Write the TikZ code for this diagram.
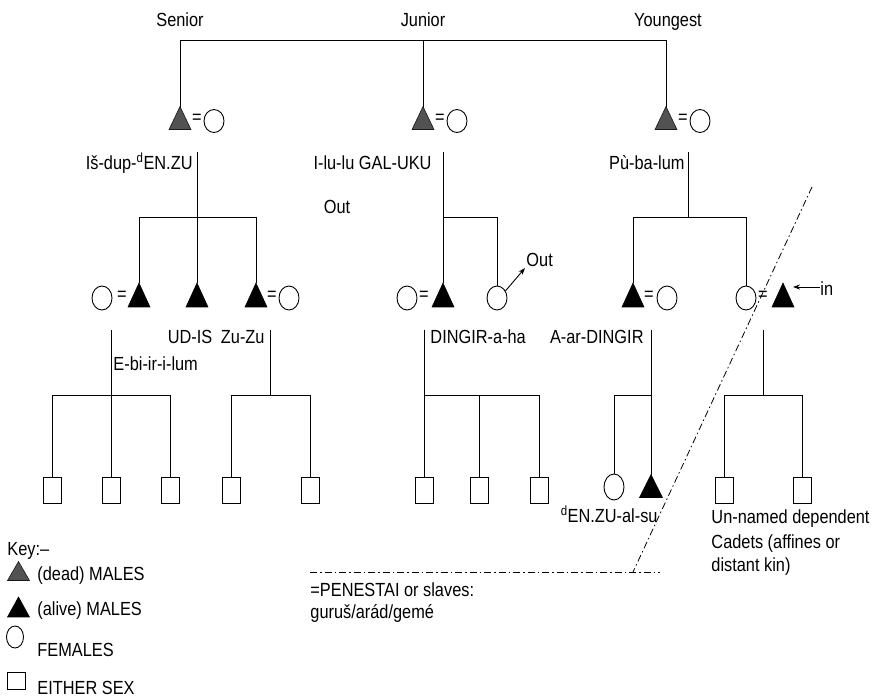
\documentclass[tikz,border=0pt]{standalone}
\usepackage{fontspec}
\setmainfont{Liberation Sans}[FakeStretch=0.86]
\usetikzlibrary{shapes.geometric,arrows.meta}
\newcommand\mtri[5]{\node[trbox,#5] (#1) at (#2,#3) {};
  \filldraw[#4] (#1.south west) -- (#1.south east) -- (#1.north) -- cycle;}
\begin{document}
\begin{tikzpicture}[x=1pt,y=-1pt, line width=0.9pt,
  trbox/.style={rectangle, inner sep=0pt, minimum width=21pt, minimum height=23pt},
  alive/.style={fill=black, draw=black, line width=0.6pt},
  dead/.style={fill=black!68, draw=black!90, line width=0.6pt},
  fem/.style={ellipse, draw, inner sep=0pt, minimum width=20pt, minimum height=24pt},
  sq/.style={rectangle, draw, inner sep=0pt, minimum width=18pt, minimum height=26pt},
  lbl/.style={inner sep=0pt, font=\fontsize{19}{22}\selectfont},
  eqs/.style={inner sep=0pt, font=\fontsize{19}{22}\selectfont},
  dashdot/.style={dash pattern=on 7pt off 3pt on 1.5pt off 3pt, line width=0.8pt},
  arr/.style={-{Stealth[length=7pt,width=5pt]}},
]
\useasboundingbox (0,0) rectangle (879,697);

% ---------- generation 1 ----------
\node[lbl, anchor=base] (lsen) at (180,26) {Senior};
\node[lbl, anchor=base] (ljun) at (423,26) {Junior};
\node[lbl, anchor=base] (lyou) at (668,26) {Youngest};
\coordinate (top) at (423,40);

\mtri{tS}{180}{118}{dead}{minimum height=22pt}
\node[eqs] (eS) at (197,119) {=};
\node[fem, minimum height=23pt] (cS) at (214,121) {};
\mtri{tJ}{423}{118}{dead}{minimum height=22pt}
\node[eqs] (eJ) at (440,119) {=};
\node[fem, minimum height=23pt] (cJ) at (457,121) {};
\mtri{tY}{666}{118}{dead}{minimum height=22pt}
\node[eqs] (eY) at (683,119) {=};
\node[fem, minimum height=23pt] (cY) at (700,121) {};

\draw (tS.north) -- (tS.north |- top) -- (tY.north |- top) -- (tY.north);
\draw (tJ.north) -- (tJ.north |- top);

\node[lbl, anchor=base east] (nS) at (193,169) {Iš-dup-\textsuperscript{d}EN.ZU};
\node[lbl, anchor=base east] (nJ) at (432,169) {I-lu-lu GAL-UKU};
\node[lbl, anchor=base east] (nY) at (685,169) {Pù-ba-lum};
\node[lbl, anchor=base] (out1) at (337,213) {Out};

% ---------- generation 2 ----------
\coordinate (h2) at (197,217);
\node[fem] (a1) at (102,298) {};
\node[eqs] (ea) at (122,296) {=};
\mtri{a2}{139}{295}{alive}{}
\mtri{b}{197}{295}{alive}{}
\mtri{c}{256}{295}{alive}{}
\node[eqs] (ec) at (272,296) {=};
\node[fem] (c2) at (289,298) {};

\coordinate (dS) at (197,152);
\draw (dS) -- (b.north);
\draw (a2.north) -- (a2.north |- h2) -- (c.north |- h2) -- (c.north);

\node[fem] (j1) at (407,298) {};
\node[eqs] (ej) at (424,296) {=};
\mtri{jt}{443}{295}{alive}{}
\node[fem] (jc2) at (497,298) {};
\coordinate (dJ) at (443,152);
\draw (dJ) -- (jt.north);
\draw (dJ |- h2) -- (jc2.north |- h2) -- (jc2.north);
\coordinate (oa) at (525,268);
\draw[arr] (jc2.40) -- (oa);
\node[lbl, anchor=base west] (out2) at (526,266) {Out};

\mtri{yt}{633}{295}{alive}{}
\node[eqs] (ey) at (649,296) {=};
\node[fem] (yc) at (667,298) {};
\node[fem] (yc2) at (746,298) {};
\node[eqs] (ey2) at (763,296) {=};
\mtri{yt2}{783}{295}{alive}{}
\coordinate (dY) at (688,152);
\draw (dY) -- (dY |- h2);
\draw (yt.north) -- (yt.north |- h2) -- (yc2.north |- h2) -- (yc2.north);
\coordinate (ia) at (793,287);
\node[lbl, anchor=base west] (lin) at (820,295) {in};
\draw[arr] (lin.west |- ia) -- (ia);

\node[lbl, anchor=base] (nUD) at (190,343) {UD-IS};
\node[lbl, anchor=base east] (nZu) at (265,343) {Zu-Zu};
\node[lbl, anchor=base west] (nEb) at (113,370) {E-bi-ir-i-lum};
\node[lbl, anchor=base west] (nDa) at (430,343) {DINGIR-a-ha};
\node[lbl, anchor=base east] (nAa) at (644,343) {A-ar-DINGIR};

% ---------- generation 3 ----------
\coordinate (h3) at (111,395);
\node[sq] (q1) at (52,490) {};
\node[sq] (q2) at (111,490) {};
\node[sq] (q3) at (170,490) {};
\node[sq] (q4) at (231,490) {};
\node[sq] (q5) at (310,490) {};
\node[sq] (q6) at (424,490) {};
\node[sq] (q7) at (479,490) {};
\node[sq] (q8) at (539,490) {};
\node[fem, minimum height=26pt] (g1) at (614,487) {};
\mtri{g2}{651}{486}{alive}{minimum width=22pt, minimum height=22pt}
\node[sq] (q9) at (724,490) {};
\node[sq] (q10) at (802,490) {};

\coordinate (dA) at (111,330);
\draw (dA) -- (q2.north);
\draw (q1.north) -- (q1.north |- h3) -- (q3.north |- h3) -- (q3.north);
\coordinate (dC) at (270,330);
\draw (dC) -- (dC |- h3);
\draw (q4.north) -- (q4.north |- h3) -- (q5.north |- h3) -- (q5.north);
\coordinate (dJ2) at (424,330);
\draw (dJ2) -- (q6.north);
\draw (q6.north |- h3) -- (q8.north |- h3) -- (q8.north);
\draw (q7.north) -- (q7.north |- h3);
\coordinate (dY2) at (651,330);
\draw (dY2) -- (g2.north);
\draw (g1.north) -- (g1.north |- h3) -- (dY2 |- h3);
\coordinate (dY3) at (763,330);
\draw (dY3) -- (dY3 |- h3);
\draw (q9.north) -- (q9.north |- h3) -- (q10.north |- h3) -- (q10.north);

\node[lbl, anchor=base east] (nEn) at (658,522) {\textsuperscript{d}EN.ZU-al-su};
\node[lbl, anchor=base west] (un1) at (711,523) {Un-named dependent};
\node[lbl, anchor=base west] (un2) at (711,548) {Cadets (affines or};
\node[lbl, anchor=base west] (un3) at (711,571) {distant kin)};

% ---------- dash-dot boundary ----------
\coordinate (dd1) at (812,187);
\coordinate (dd2) at (633,572);
\coordinate (dd3) at (310,572);
\coordinate (dd4) at (660,572);
\draw[dashdot] (dd1) -- (dd2);
\draw[dashdot] (dd3) -- (dd4);
\node[lbl, anchor=base west] (pen1) at (310,596) {=PENESTAI or slaves:};
\node[lbl, anchor=base west] (pen2) at (310,618) {guruš/arád/gemé};

% ---------- key ----------
\node[lbl, anchor=base west] (key) at (7,555) {Key:–};
\mtri{k1}{18.5}{571}{dead}{minimum height=18pt}
\node[lbl, anchor=base west] (k1t) at (37,580) {(dead) MALES};
\mtri{k2}{18.5}{607}{alive}{minimum height=19pt}
\node[lbl, anchor=base west] (k2t) at (37,615) {(alive) MALES};
\node[fem, minimum width=17pt, minimum height=22pt] (k3) at (15,637) {};
\node[lbl, anchor=base west] (k3t) at (37,656) {FEMALES};
\node[sq, minimum width=18pt, minimum height=17pt] (k4) at (16,681) {};
\node[lbl, anchor=base west] (k4t) at (37,694) {EITHER SEX};
\end{tikzpicture}
\end{document}
